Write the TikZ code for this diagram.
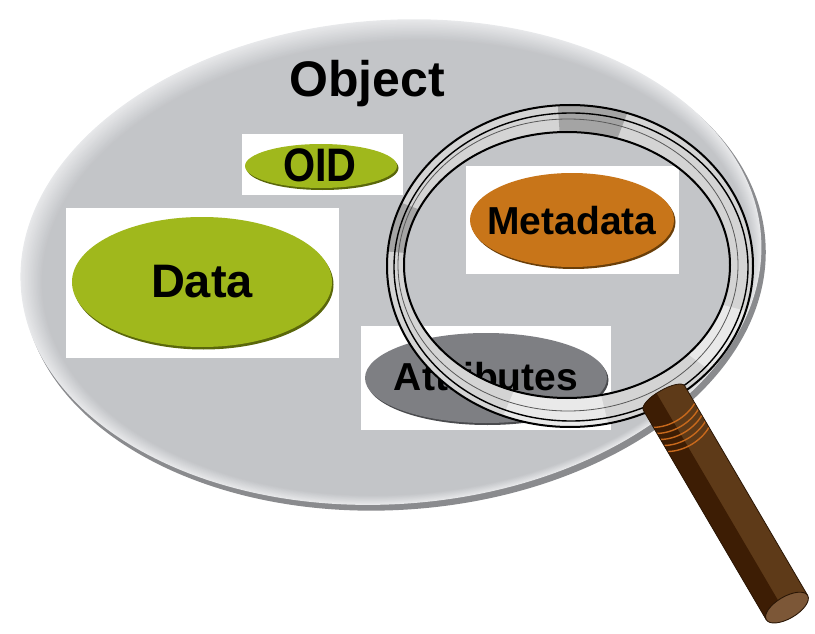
\documentclass[tikz,border=0pt]{standalone}
\usepackage{fontspec}
\setmainfont{Liberation Sans}
\usetikzlibrary{shapes.geometric}

\definecolor{diskrim}{HTML}{E7E8EA}
\definecolor{diskbody}{HTML}{C3C5C8}
\definecolor{diskedge}{HTML}{8A8B8E}
\definecolor{leafgreen}{HTML}{A0B81C}
\definecolor{leafshade}{HTML}{5A670A}
\definecolor{amber}{HTML}{C87519}
\definecolor{ambershade}{HTML}{6A3E08}
\definecolor{slate}{HTML}{7E7F83}
\definecolor{slateshade}{HTML}{4A4B4E}
\definecolor{rimlight}{HTML}{D4D4D4}
\definecolor{rimdark}{HTML}{A4A4A4}
\definecolor{rimpale}{HTML}{E9E9E9}
\definecolor{wooddark}{HTML}{3D1D04}
\definecolor{woodlight}{HTML}{5E3A18}
\definecolor{woodend}{HTML}{7C5737}
\definecolor{woodline}{HTML}{2A1605}
\definecolor{bandorange}{HTML}{C8691C}

\tikzset{
  whitebox/.style={rectangle, fill=white, inner sep=0pt},
  label text/.style={inner sep=0pt, text=black, font=\bfseries\fontsize{#1}{#1}\selectfont},
  rimline/.style={draw=black, line width=2pt},
}

\begin{document}
\begin{tikzpicture}[x=1pt, y=-1pt]
\useasboundingbox (0,0) rectangle (815,634);

% grey object disc: dark lower edge, then a soft light rim fading into the body
\fill[diskedge, rotate around={4:(392,263)}] (394,267) ellipse [x radius=372, y radius=243];
\foreach \i in {0,...,14}{
  \pgfmathsetmacro\f{\i/14}
  \pgfmathtruncatemacro\pc{100-100*\f}
  \fill[diskrim!\pc!diskbody, rotate around={4:(392,263)}]
    ({391+5*\f},{262+6*\f}) ellipse [x radius={371-16*\f}, y radius={242-15*\f}];
}

\node[label text=50pt, anchor=base] (object) at (367,97) {Object};

% white backing boxes
\node[whitebox, minimum width=273pt, minimum height=150pt] (databox) at (202.5,283) {};
\node[whitebox, minimum width=161pt, minimum height=61pt] (oidbox) at (322.5,164.5) {};
\node[whitebox, minimum width=213pt, minimum height=108pt] (metabox) at (572.5,220) {};
\node[whitebox, minimum width=250pt, minimum height=104pt] (attrbox) at (486,378) {};

% coloured ellipses, each with a thin dark rim below and to the right
\fill[leafshade] (203.5,284.5) ellipse [x radius=130, y radius=65];
\fill[leafgreen] (202,282) ellipse [x radius=130, y radius=65];
\fill[leafshade] (322.5,168) ellipse [x radius=76, y radius=22];
\fill[leafgreen] (321,166) ellipse [x radius=76, y radius=22];
\fill[ambershade] (573.5,222) ellipse [x radius=102, y radius=47];
\fill[amber] (572,220) ellipse [x radius=102, y radius=47];
\fill[slateshade] (487.5,380) ellipse [x radius=121, y radius=45];
\fill[slate] (486,378) ellipse [x radius=121, y radius=45];

\node[label text=47pt] (data) at (202,282) {Data};
\node[label text=47pt] (oid) at (320,165) {\scalebox{0.88}[1]{OID}};
\node[label text=39pt] (meta) at (572,221) {Metadata};
\node[label text=39pt] (attr) at (486,377) {Attributes};

% magnifier rim
\fill[rimlight, even odd rule]
  (570,266) ellipse [x radius=183, y radius=161]
  (567,265) ellipse [x radius=163, y radius=133];
\begin{scope}[even odd rule]
  \clip
    (570,266) ellipse [x radius=183, y radius=161]
    (567,265) ellipse [x radius=163, y radius=133];
  \fill[rimdark] (568,265) -- (555,60) -- (648,60) -- cycle;
  \fill[rimdark] (568,265) -- (300,165) -- (300,245) -- cycle;
  \fill[rimpale] (568,265) -- (820,330) -- (790,430) -- cycle;
  \fill[rimpale] (568,265) -- (480,470) -- (620,470) -- cycle;
\end{scope}
\draw[gray!70!black, line width=0.8pt] (568,265) ellipse [x radius=170, y radius=146];
\draw[black, line width=1.4pt] (571,267) ellipse [x radius=177, y radius=154];
\draw[rimline] (570,266) ellipse [x radius=183, y radius=161];
\draw[rimline] (567,265) ellipse [x radius=163, y radius=133];

% wooden handle, drawn along its own axis
\begin{scope}[shift={(664,398)}, rotate=-59.6]
  \fill[woodlight] (0,-24) -- (243,-24) -- (243,24) -- (0,24)
    arc[start angle=90, end angle=270, x radius=8, y radius=24] -- cycle;
  \fill[wooddark] (0,4) -- (243,4) -- (243,24) -- (0,24)
    arc[start angle=90, end angle=180, x radius=8, y radius=20] -- cycle;
  \foreach \t in {20,27,34,41,48}{
    \draw[bandorange, line width=1.4pt] (\t,-24) .. controls (\t+8,-10) and (\t+8,10) .. (\t,24);
  }
  \draw[woodline, line width=0.8pt] (0,-24) -- (243,-24) (0,24) -- (243,24)
    (0,24) arc[start angle=90, end angle=270, x radius=8, y radius=24];
  \draw[woodline, line width=0.9pt, fill=woodend] (243,0) ellipse [x radius=11, y radius=24];
\end{scope}
\end{tikzpicture}
\end{document}
